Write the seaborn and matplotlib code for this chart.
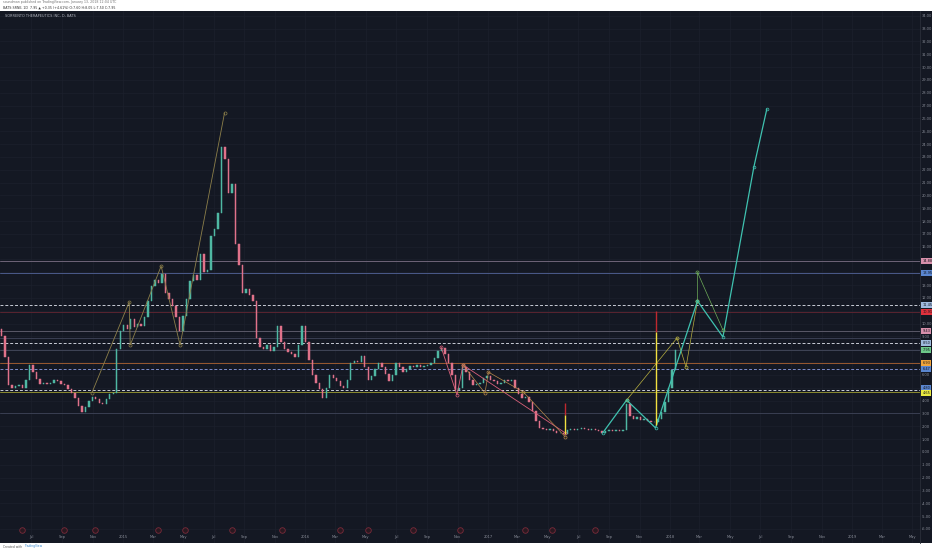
import pandas as pd
import numpy as np
import matplotlib
matplotlib.use("Agg")
import matplotlib.pyplot as plt
import seaborn as sns
from matplotlib.transforms import blended_transform_factory

# weekly closes, SRNE (first week 2014-05-02)
closes = [9.0, 7.4, 5.2, 5.0, 5.1, 5.2, 5.0, 5.6, 6.8, 6.2,
          5.7, 5.3, 5.4, 5.3, 5.4, 5.6, 5.5, 5.3, 5.2, 4.9,
          4.6, 4.2, 3.6, 3.1, 3.5, 4.0, 4.3, 4.1, 3.8, 3.7,
          4.1, 4.5, 4.6, 8.0, 9.4, 9.9, 9.6, 10.4, 9.7, 10.0,
          9.8, 10.5, 11.8, 12.9, 13.4, 13.2, 13.9, 12.4, 11.9, 11.4,
          10.5, 9.4, 10.6, 11.9, 13.3, 13.8, 13.4, 15.4, 14.0, 14.2,
          16.8, 17.4, 18.6, 23.8, 22.8, 20.2, 20.9, 16.2, 14.6, 12.4,
          12.7, 12.2, 11.8, 8.9, 8.2, 8.0, 8.3, 7.9, 8.2, 9.8,
          8.6, 8.0, 7.8, 7.6, 7.4, 8.3, 9.8, 8.6, 7.2, 6.0,
          5.4, 4.9, 4.2, 5.0, 6.0, 5.8, 5.5, 5.1, 5.0, 5.6,
          6.9, 7.1, 7.0, 7.5, 6.6, 5.6, 5.9, 6.5, 6.9, 6.6,
          6.1, 5.5, 6.0, 6.9, 6.6, 6.2, 6.5, 6.7, 6.6, 6.8,
          6.6, 6.7, 6.8, 6.9, 7.3, 7.9, 8.1, 7.6, 6.9, 6.0,
          4.8, 5.0, 6.6, 6.2, 5.6, 5.2, 5.3, 5.4, 5.8, 5.9,
          5.6, 5.5, 5.3, 5.4, 5.6, 5.5, 5.6, 5.0, 4.5, 4.2,
          4.3, 3.9, 3.2, 2.4, 1.9, 1.8, 1.7, 1.8, 1.6, 1.5,
          1.5, 1.4, 1.7, 1.8, 1.7, 1.8, 1.9, 1.8, 1.7, 1.8,
          1.7, 1.6, 1.5, 1.6, 1.7, 1.6, 1.7, 1.6, 1.7, 3.7,
          2.8, 2.6, 2.7, 2.5, 2.6, 2.4, 2.3, 2.3, 2.6, 3.1,
          3.9, 5.0, 6.4, 7.95]
first_open = 9.6

# elliott wave drawings
wave1_dates = ["2014-10-30", "2015-01-13", "2015-01-15", "2015-03-18", "2015-04-25", "2015-07-23"]
wave1_prices = [4.59, 11.69, 8.33, 14.49, 8.33, 26.42]
pink_dates = ["2016-09-29", "2016-10-31", "2016-11-12", "2017-06-05"]
pink_prices = [8.18, 4.44, 6.78, 1.48]
orange_dates = ["2016-11-12", "2016-12-26", "2017-01-02", "2017-03-13", "2017-06-05"]
orange_prices = [6.78, 4.59, 6.22, 4.67, 1.17]
teal_dates = ["2017-08-19", "2017-10-06", "2017-12-03", "2018-02-25", "2018-04-17", "2018-06-18", "2018-07-14"]
teal_prices = [1.48, 4.04, 1.87, 11.77, 8.96, 22.21, 26.73]
yellow_dates = ["2017-10-06", "2018-01-15", "2018-02-02", "2018-02-25"]
yellow_prices = [4.04, 8.88, 6.62, 11.77]
green_dates = ["2018-02-25", "2018-02-25", "2018-04-17"]
green_prices = [11.77, 14.0, 9.5]

# vertical red/yellow markers
vmark_dates = ["2017-06-05", "2017-12-03"]
vmark_top = [3.79, 10.98]
vmark_mid = [2.86, 9.34]
vmark_low = [1.40, 2.09]

# horizontal levels
level_prices = [14.88, 13.95, 11.45, 10.91, 9.43, 8.88, 8.50, 7.95, 6.93, 6.47, 4.80, 4.65, 3.05]
level_colors = ["#6e6478", "#4a5a8a", "#c8ccd6", "#5a2430", "#5a5868", "#3a3f52", "#c8ccd6",
                "#3f4456", "#9a5a30", "#7c8ccc", "#c8ccd6", "#8a8a30", "#3a3f52"]
level_styles = ["-", "-", "--", "-", "-", "-", "--", "-", "-", "--", "--", "-", "-"]
label_colors = ["#d890ab", "#5a86d0", "#9fb9dd", "#e0313d", "#d890ab", None, "#9fb9dd",
                "#6dc88a", "#f0a43a", "#5a86d0", "#5a86d0", "#e8e840", None]

# earnings / events along the bottom
event_dates = ["2014-06-12", "2014-09-04", "2014-11-05", "2015-03-11", "2015-05-04", "2015-08-08",
               "2015-11-15", "2016-03-10", "2016-05-05", "2016-08-04", "2016-11-06", "2017-03-17",
               "2017-05-10", "2017-08-03"]

tick_labels = ["Jul", "Sep", "Nov", "2015", "Mar", "May", "Jul", "Sep", "Nov", "2016",
               "Mar", "May", "Jul", "Sep", "Nov", "2017", "Mar", "May", "Jul", "Sep",
               "Nov", "2018", "Mar", "May", "Jul", "Sep", "Nov", "2019", "Mar", "May"]

bg = "#141823"
grid_c = "#1c202d"
txt_c = "#8a8e99"
up_c = "#4fb8a3"
down_c = "#e0728a"

sns.set_theme(style="dark")
plt.rcParams["font.family"] = ["DejaVu Sans"]

W, H = 932, 550
fig = plt.figure(figsize=(W / 100, H / 100), dpi=100, facecolor="white")

# dark chart background (header and footer stay white)
back = fig.add_axes([0, 1 - 543 / H, 1, 532 / H])
back.set_facecolor(bg)
back.set_xticks([])
back.set_yticks([])
for s in back.spines.values():
    s.set_visible(False)

ax = fig.add_axes([0, 1 - 543 / H, 920 / W, 532 / H])
ax.set_facecolor(bg)

dates = pd.date_range("2014-05-02", periods=len(closes), freq="7D")
df = pd.DataFrame({"date": dates, "close": closes})
df["open"] = [first_open] + closes[:-1]
cols = [up_c if c >= o else down_c for o, c in zip(df["open"], df["close"])]
ax.bar(df["date"], df["close"] - df["open"], bottom=df["open"], width=2.8,
       color=cols, edgecolor=cols, linewidth=0.35, zorder=4)

# levels
for p, c, ls in zip(level_prices, level_colors, level_styles):
    ax.axhline(p, color=c, lw=0.7, ls=ls, dashes=(3, 2) if ls == "--" else (None, None), zorder=2)

def wave(d, p, color, lw=0.6, ms=2.2):
    sns.lineplot(x=pd.to_datetime(d), y=p, ax=ax, color=color, lw=lw, sort=False,
                 estimator=None, zorder=5)
    ax.plot(pd.to_datetime(d), p, ls="none", marker="o", ms=ms, mfc="none",
            mec=color, mew=0.5, zorder=6)

wave(wave1_dates, wave1_prices, "#8c7f4a")
wave(pink_dates, pink_prices, "#d9607a")
wave(orange_dates, orange_prices, "#b7884a", lw=0.5)
wave(yellow_dates, yellow_prices, "#b8b040", lw=0.5)
wave(green_dates, green_prices, "#6fae5a", lw=0.5)
wave(teal_dates, teal_prices, "#3fc2b0", lw=0.9, ms=2.0)

vd = pd.to_datetime(vmark_dates)
ax.vlines(vd, vmark_mid, vmark_top, color="#c0282f", lw=1.0, zorder=7)
ax.vlines(vd, vmark_low, vmark_mid, color="#f2e040", lw=1.0, zorder=7)

# axes / grid
ax.set_xlim(pd.Timestamp("2014-04-29"), pd.Timestamp("2019-05-17"))
ax.set_ylim(-7.10, 34.37)
month_ticks = pd.date_range("2014-07-01", "2019-05-01", freq="2MS")
ax.set_xticks(month_ticks)
ax.set_xticklabels([])
ax.set_yticks(np.arange(-6, 35, 1))
ax.yaxis.tick_right()
ax.set_yticklabels([f"{v:.2f}" for v in np.arange(-6, 35, 1)], fontsize=2.6, color=txt_c)
ax.tick_params(axis="both", length=0, pad=1.5)
ax.grid(True, color=grid_c, lw=0.5)
ax.set_xlabel("")
ax.set_ylabel("")
for name, s in ax.spines.items():
    s.set_visible(name == "right")
ax.spines["right"].set_color("#2a2e39")
ax.spines["right"].set_linewidth(0.6)

bt = blended_transform_factory(ax.transData, ax.transAxes)
for d, lab in zip(month_ticks, tick_labels):
    ax.text(d, 6 / 532, lab, transform=bt, fontsize=2.6, color=txt_c,
            ha="center", va="center", zorder=8)

ax.scatter(pd.to_datetime(event_dates), [13 / 532] * len(event_dates), transform=bt,
           s=16, facecolor="#2a1820", edgecolor="#7a2a3a", lw=0.6, zorder=8, clip_on=False)

rt = blended_transform_factory(ax.transAxes, ax.transData)
label_shift = [0, 0, 0, 0, 0, 0, 0, 0, 0, 0, 0.18, -0.05, 0]
for p, lc, sh in zip(level_prices, label_colors, label_shift):
    if lc is None:
        continue
    ax.text(1.0025, p + sh, f"{p:.2f}", transform=rt, fontsize=2.5, color="#10131c",
            ha="left", va="center", clip_on=False, zorder=9,
            bbox=dict(boxstyle="square,pad=0.25", fc=lc, ec="none"))

# texts
fig.text(5 / W, 1 - 16 / H, "SORRENTO THERAPEUTICS INC, D, BATS", fontsize=2.5,
         color="#b2b5be", ha="left", va="center")
fig.text(3 / W, 1 - 2.5 / H, "soundman published on TradingView.com, January 13, 2018 12:04 UTC",
         fontsize=2.3, color="#777", ha="left", va="center")
fig.text(3 / W, 1 - 7.5 / H, "BATS:SRNE, 1D  7.95 \u25b2 +0.35 (+4.61%) O:7.60 H:8.05 L:7.50 C:7.95",
         fontsize=2.3, color="#333", ha="left", va="center")
fig.text(3 / W, 1 - 546.5 / H, "Created with", fontsize=2.2, color="#555", ha="left", va="center")
fig.text(24 / W, 1 - 546.5 / H, "TradingView", fontsize=2.2, color="#3a8ad0", ha="left", va="center")

fig.savefig("out.png", dpi=100, facecolor=fig.get_facecolor())
